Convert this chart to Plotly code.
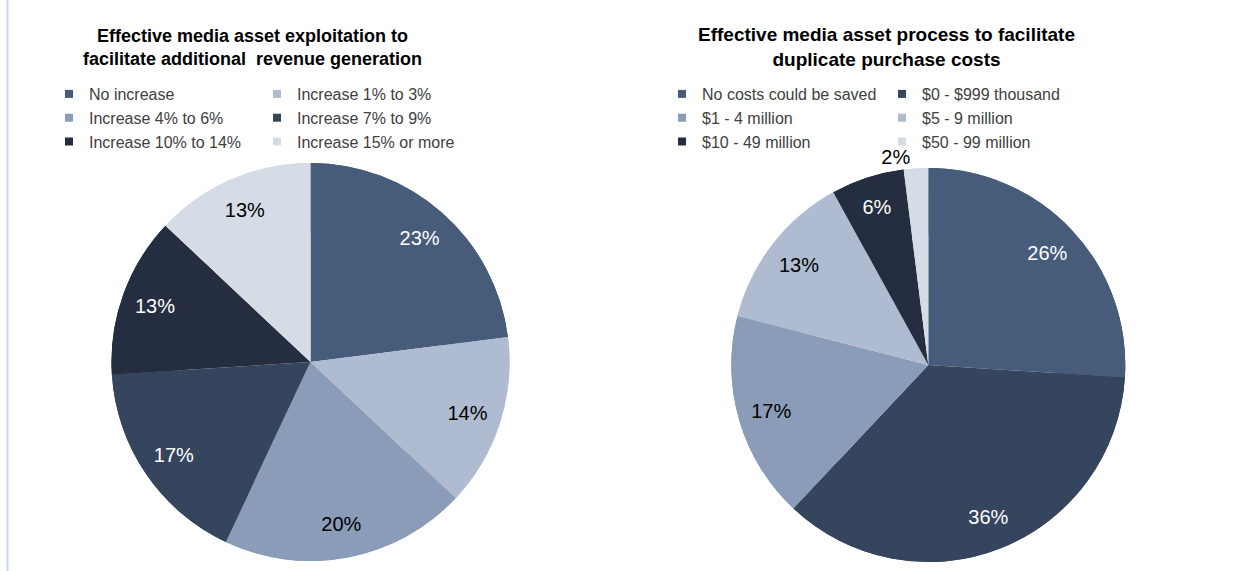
import plotly.graph_objects as go

W, H = 1241, 571

# ---- data ----
left_title = "Effective media asset exploitation to<br>facilitate additional  revenue generation"
left_labels = ["No increase", "Increase 1% to 3%", "Increase 4% to 6%",
               "Increase 7% to 9%", "Increase 10% to 14%", "Increase 15% or more"]
left_values = [23, 14, 20, 17, 13, 13]

right_title = "Effective media asset process to facilitate<br>duplicate purchase costs"
right_labels = ["No costs could be saved", "$0 - $999 thousand", "$1 - 4 million",
                "$5 - 9 million", "$10 - 49 million", "$50 - 99 million"]
right_values = [26, 36, 17, 13, 6, 2]

# ---- styles ----
C1, C2, C3, C4, C5, C6 = "#475B7A", "#AEBBD0", "#8A9CB8", "#36455E", "#252E40", "#D6DCE6"
left_colors = [C1, C2, C3, C4, C5, C6]
right_colors = [C1, C4, C3, C2, C5, C6]
left_txtcol = ["white", "black", "black", "white", "white", "black"]
right_txtcol = ["white", "white", "black", "black", "white", "black"]
right_txtpos = ["inside", "inside", "inside", "inside", "inside", "outside"]
FONT = "Liberation Sans, Arial, sans-serif"
LABEL_SIZE = 20
RING_HOLE = 0.66  # label ring: places inside labels at ~0.83 of the radius

def xdom(cx, r):
    return [(cx - r) / W, (cx + r) / W]

def ydom(cy, r):
    return [1 - (cy + r) / H, 1 - (cy - r) / H]

fig = go.Figure()

def add_pie(labels, values, colors, txtcol, txtpos, cx, cy, r):
    dom = dict(x=xdom(cx, r), y=ydom(cy, r))
    # full pie (slices)
    fig.add_trace(go.Pie(
        labels=labels, values=values, textinfo="none",
        marker=dict(colors=colors, line=dict(width=0)),
        sort=False, direction="clockwise", rotation=0,
        domain=dom, showlegend=False, hoverinfo="skip",
    ))
    # same slices as a ring on top, carrying the percentage labels
    fig.add_trace(go.Pie(
        labels=labels, values=values, hole=RING_HOLE,
        text=[f"{v}%" for v in values], textinfo="text",
        textposition=txtpos, insidetextorientation="horizontal",
        insidetextfont=dict(color=txtcol, size=LABEL_SIZE, family=FONT),
        outsidetextfont=dict(color="black", size=LABEL_SIZE, family=FONT),
        marker=dict(colors=colors, line=dict(width=0)),
        sort=False, direction="clockwise", rotation=0,
        domain=dom, showlegend=False, hoverinfo="skip",
    ))

add_pie(left_labels, left_values, left_colors, left_txtcol, "inside", 310.5, 362, 199)
add_pie(right_labels, right_values, right_colors, right_txtcol, right_txtpos, 928.3, 365, 197)

# legend entries (two columns per chart, row-major order)
def add_legend_entries(labels, colors, legend_names):
    for i, (lab, col) in enumerate(zip(labels, colors)):
        fig.add_trace(go.Scatter(
            x=[None], y=[None], mode="markers", name=lab,
            marker=dict(symbol="square", size=8, color=col),
            legend=legend_names[i % 2], showlegend=True, hoverinfo="skip",
        ))

add_legend_entries(left_labels, left_colors, ["legend", "legend2"])
add_legend_entries(right_labels, right_colors, ["legend3", "legend4"])

def legend_box(xpx, ypx):
    return dict(x=xpx / W, y=1 - ypx / H, xanchor="left", yanchor="top",
                orientation="v", bgcolor="rgba(0,0,0,0)", borderwidth=0,
                font=dict(family=FONT, size=16, color="#404040"),
                tracegroupgap=0, itemclick=False, itemdoubleclick=False)

fig.update_layout(
    width=W, height=H,
    margin=dict(l=0, r=0, t=0, b=0),
    paper_bgcolor="white", plot_bgcolor="white",
    font=dict(family=FONT),
    xaxis=dict(visible=False), yaxis=dict(visible=False),
    legend=legend_box(49, 77),
    legend2=legend_box(257, 77),
    legend3=legend_box(662, 77),
    legend4=legend_box(882, 77),
    annotations=[
        dict(text=f"<b>{left_title}</b>", x=252 / W, y=1 - 47 / H,
             xref="paper", yref="paper", xanchor="center", yanchor="middle",
             showarrow=False, font=dict(family=FONT, size=18, color="black")),
        dict(text=f"<b>{right_title}</b>", x=886 / W, y=1 - 47 / H,
             xref="paper", yref="paper", xanchor="center", yanchor="middle",
             showarrow=False, font=dict(family=FONT, size=19, color="black")),
    ],
    shapes=[dict(type="line", xref="paper", yref="paper",
                 x0=7.5 / W, x1=7.5 / W, y0=0, y1=1,
                 line=dict(color="#C6D6EC", width=2))],
)

fig.write_html("out.html")
